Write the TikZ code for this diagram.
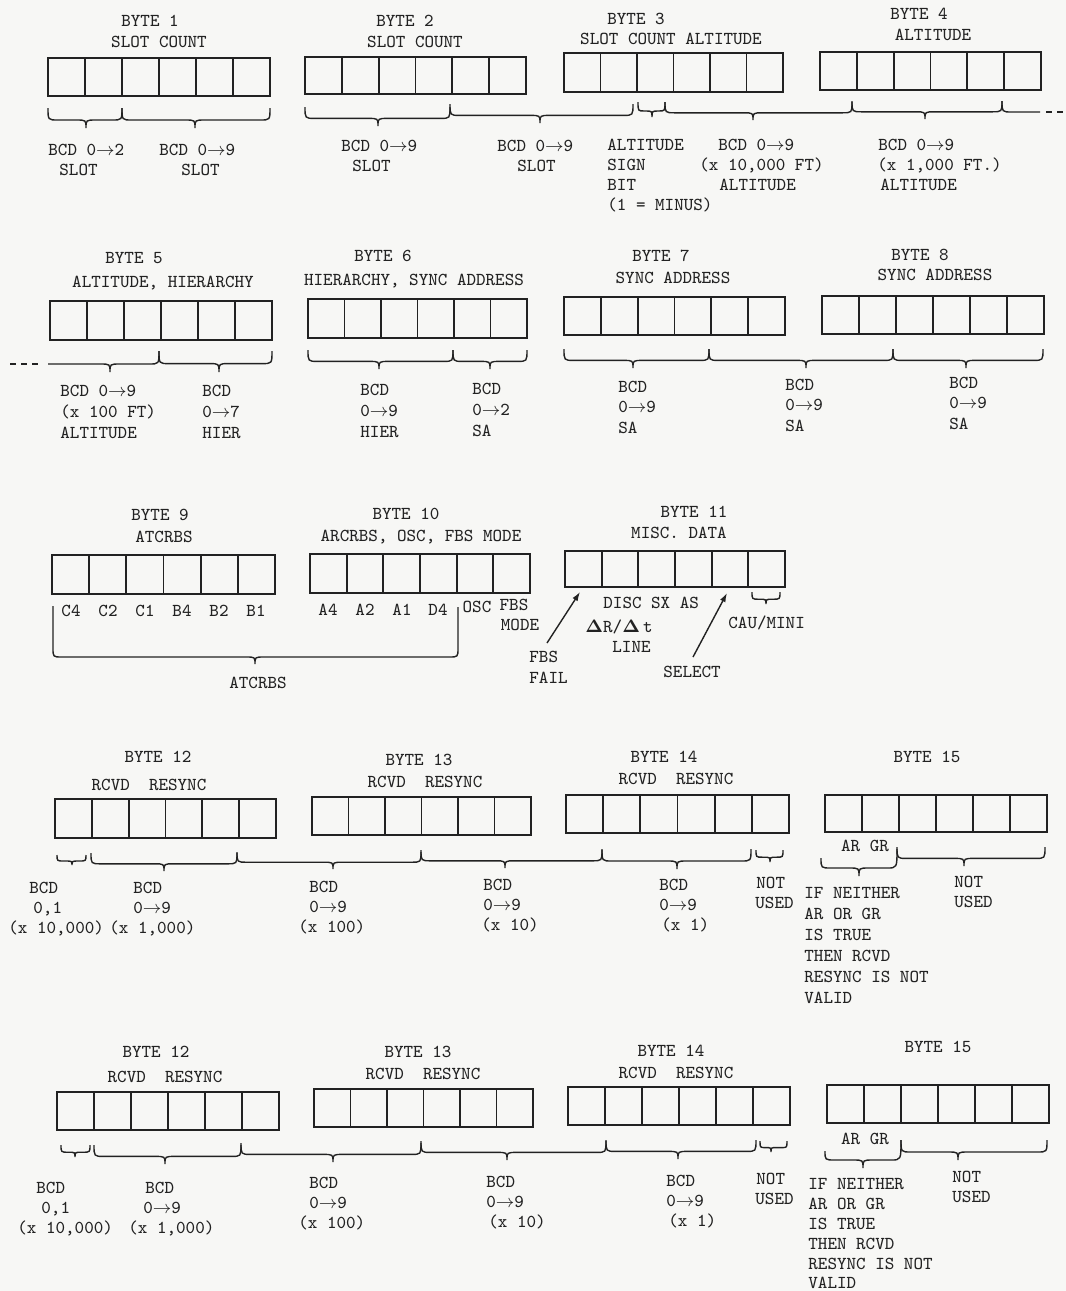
\documentclass[tikz,border=0pt]{standalone}
\usepackage[no-math]{fontspec}
\usetikzlibrary{arrows.meta,calc,fit}
\definecolor{ink}{HTML}{222222}
\definecolor{paper}{HTML}{F7F7F5}
\newcommand{\ta}{$\rightarrow$}
\newcommand{\dl}{$\mathbf{\Delta}$}
\newcommand{\bytebox}[5]{%
  \coordinate (#1nw) at (#2,#3);
  \coordinate (#1se) at (#4,#5);
  \node[bx, fit=(#1nw)(#1se)] (#1) {};
  \foreach \k in {1,...,5}{\draw[cellline] ($(#1.south west)!\k/6!(#1.south east)$) -- ($(#1.north west)!\k/6!(#1.north east)$);}
}
\newcommand{\brc}[5]{%
  \pgfmathsetmacro{\ym}{#4+0.6*(#5-#4)}%
  \pgfmathsetmacro{\rr}{min(10,(#3-#1)/2,(#2-#3)/2)}%
  \draw[brcs] (#1,#4) .. controls (#1,\ym) .. ({#1+\rr},\ym) -- ({#3-\rr},\ym) .. controls (#3,\ym) .. (#3,#5) .. controls (#3,\ym) .. ({#3+\rr},\ym) -- ({#2-\rr},\ym) .. controls (#2,\ym) .. (#2,#4);
}
\begin{document}
\begin{tikzpicture}[x=0.5pt,y=-0.5pt,
  lbl/.style={font=\ttfamily\fontsize{9.1}{11}\selectfont, text=ink, inner sep=0pt, text height=5.6pt, text depth=0pt},
  lw/.style={lbl, anchor=west},
  bx/.style={draw=ink, line width=1pt, inner sep=0pt, outer sep=0pt},
  cellline/.style={draw=ink, line width=0.9pt},
  brcs/.style={draw=ink, line width=0.7pt},
  dsh/.style={draw=ink, line width=0.7pt, dash pattern=on 3pt off 2.5pt},
  arr/.style={draw=ink, line width=0.7pt, -{Latex[length=4.5pt,width=3pt]}}]
\useasboundingbox (0,0) rectangle (1066,1291);
\fill[paper] (0,0) rectangle (1066,1291);

% ================= ROW 1 =================
\bytebox{b1}{48}{58}{270}{96}
\bytebox{b2}{305}{57}{526}{94}
\bytebox{b3}{564}{53}{783}{92}
\bytebox{b4}{820}{52}{1041}{90}
\node[lbl] (t1a) at (150,21) {BYTE 1};
\node[lbl] (t1b) at (159,42) {SLOT COUNT};
\node[lbl] (t2a) at (405,21) {BYTE 2};
\node[lbl] (t2b) at (415,42) {SLOT COUNT};
\node[lbl] (t3a) at (636,19) {BYTE 3};
\node[lbl] (t3b) at (671,39) {SLOT COUNT ALTITUDE};
\node[lbl] (t4a) at (919,14) {BYTE 4};
\node[lbl] (t4b) at (933,35) {ALTITUDE};
\brc{48}{122}{86}{108}{128}
\brc{122}{270}{195}{108}{128}
\brc{305}{450}{378}{107}{126}
\brc{450}{633}{540}{104}{123}
\brc{638}{665}{652}{102}{117}
\brc{665}{852}{753}{102}{120}
\brc{852}{1002}{925}{101}{119}
\draw[brcs] (1002,101) .. controls (1002,112) .. (1012,112) -- (1040,112);
\draw[dsh] (1046,112) -- (1066,112);
\node[lw] (r1a) at (48,150) {BCD 0\ta2};
\node[lw] (r1b) at (59,170) {SLOT};
\node[lw] (r1c) at (159,150) {BCD 0\ta9};
\node[lw] (r1d) at (181,170) {SLOT};
\node[lw] (r1e) at (341,146) {BCD 0\ta9};
\node[lw] (r1f) at (352,166) {SLOT};
\node[lw] (r1g) at (497,146) {BCD 0\ta9};
\node[lw] (r1h) at (517,166) {SLOT};
\node[lw] (r1i) at (607,145) {ALTITUDE};
\node[lw] (r1j) at (607,165) {SIGN};
\node[lw] (r1k) at (607,185) {BIT};
\node[lw] (r1l) at (607,205) {(1 = MINUS)};
\node[lw] (r1m) at (718,145) {BCD 0\ta9};
\node[lw] (r1n) at (699,165) {(x 10,000 FT)};
\node[lw] (r1o) at (719,185) {ALTITUDE};
\node[lw] (r1p) at (878,145) {BCD 0\ta9};
\node[lw] (r1q) at (877,165) {(x 1,000 FT.)};
\node[lw] (r1r) at (880,185) {ALTITUDE};

% ================= ROW 2 =================
\bytebox{b5}{50}{301}{272}{340}
\bytebox{b6}{308}{299}{527}{338}
\bytebox{b7}{564}{297}{785}{335}
\bytebox{b8}{822}{296}{1044}{334}
\node[lbl] (t5a) at (134,258) {BYTE 5};
\node[lbl] (t5b) at (163,282) {ALTITUDE, HIERARCHY};
\node[lbl] (t6a) at (383,256) {BYTE 6};
\node[lbl] (t6b) at (414,280) {HIERARCHY, SYNC ADDRESS};
\node[lbl] (t7a) at (661,256) {BYTE 7};
\node[lbl] (t7b) at (673,278) {SYNC ADDRESS};
\node[lbl] (t8a) at (920,255) {BYTE 8};
\node[lbl] (t8b) at (935,275) {SYNC ADDRESS};
\draw[dsh] (10,364) -- (42,364);
\draw[brcs] (48,364) -- (100,364) .. controls (110,364) .. (110,372) .. controls (110,364) .. (120,364) -- (149,364) .. controls (159,364) .. (159,351);
\brc{159}{272}{219}{351}{372}
\brc{308}{453}{379}{350}{369}
\brc{453}{527}{490}{350}{369}
\brc{564}{709}{633}{349}{368}
\brc{709}{893}{806}{349}{368}
\brc{893}{1043}{966}{349}{368}
\node[lw] (r2a) at (60,391) {BCD 0\ta9};
\node[lw] (r2b) at (60,412) {(x 100 FT)};
\node[lw] (r2c) at (60,433) {ALTITUDE};
\node[lw] (r2d) at (202,391) {BCD};
\node[lw] (r2e) at (202,412) {0\ta7};
\node[lw] (r2f) at (202,433) {HIER};
\node[lw] (r2g) at (360,390) {BCD};
\node[lw] (r2h) at (360,411) {0\ta9};
\node[lw] (r2i) at (360,432) {HIER};
\node[lw] (r2j) at (472,389) {BCD};
\node[lw] (r2k) at (472,410) {0\ta2};
\node[lw] (r2l) at (472,431) {SA};
\node[lw] (r2m) at (618,387) {BCD};
\node[lw] (r2n) at (618,407) {0\ta9};
\node[lw] (r2o) at (618,428) {SA};
\node[lw] (r2p) at (785,385) {BCD};
\node[lw] (r2q) at (785,405) {0\ta9};
\node[lw] (r2r) at (785,426) {SA};
\node[lw] (r2s) at (949,383) {BCD};
\node[lw] (r2t) at (949,403) {0\ta9};
\node[lw] (r2u) at (949,424) {SA};

% ================= ROW 3 =================
\bytebox{b9}{52}{555}{275}{594}
\bytebox{b10}{310}{554}{530}{593}
\bytebox{b11}{565}{551}{785}{587}
\node[lbl] (t9a) at (160,515) {BYTE 9};
\node[lbl] (t9b) at (164,537) {ATCRBS};
\node[lbl] (t10a) at (406,514) {BYTE 10};
\node[lbl] (t10b) at (421,536) {ARCRBS, OSC, FBS MODE};
\node[lbl] (t11a) at (694,512) {BYTE 11};
\node[lbl] (t11b) at (679,533) {MISC. DATA};
\node[lbl] (c4) at (71,611) {C4};
\node[lbl] (c2) at (108,611) {C2};
\node[lbl] (c1) at (145,611) {C1};
\node[lbl] (bb4) at (182,611) {B4};
\node[lbl] (bb2) at (219,611) {B2};
\node[lbl] (bb1) at (256,611) {B1};
\node[lbl] (a4) at (328,610) {A4};
\node[lbl] (a2) at (365,610) {A2};
\node[lbl] (a1) at (402,610) {A1};
\node[lbl] (d4) at (438,610) {D4};
\node[lbl] (osc) at (477,607) {OSC};
\node[lbl] (fbs) at (514,605) {FBS};
\node[lbl] (mode) at (520,625) {MODE};
\draw[brcs] (53,606) -- (53,648) .. controls (53,657) .. (62,657) -- (246,657) .. controls (255,657) .. (255,664) .. controls (255,657) .. (264,657) -- (449,657) .. controls (458,657) .. (458,648) -- (458,607);
\node[lbl] (atc) at (258,683) {ATCRBS};
\node[lw] (disc) at (603,603) {DISC SX AS};
\node[lw] (drdt) at (585,627) {\dl R/\dl\,t};
\node[lw] (line) at (612,647) {LINE};
\node[lw] (fbsf1) at (529,657) {FBS};
\node[lw] (fbsf2) at (529,678) {FAIL};
\node[lw] (sel) at (663,672) {SELECT};
\node[lw] (cau) at (728,623) {CAU/MINI};
\brc{752}{780}{766}{592}{604}
\coordinate (fa0) at (547,643);
\coordinate (fa1) at (580,592);
\coordinate (sa0) at (693,657);
\coordinate (sa1) at (727,593);
\draw[arr] (fa0) -- (fa1);
\draw[arr] (sa0) -- (sa1);

% ================= ROW 4 =================
\bytebox{b12a}{55}{799}{276}{838}
\bytebox{b13a}{312}{797}{531}{835}
\bytebox{b14a}{566}{795}{789}{833}
\bytebox{b15a}{825}{795}{1047}{832}
\node[lbl] (t12a) at (158,757) {BYTE 12};
\node[lbl] (t12b) at (149,785) {RCVD\ \ RESYNC};
\node[lbl] (t13a) at (419,760) {BYTE 13};
\node[lbl] (t13b) at (425,782) {RCVD\ \ RESYNC};
\node[lbl] (t14a) at (664,757) {BYTE 14};
\node[lbl] (t14b) at (676,779) {RCVD\ \ RESYNC};
\node[lbl] (t15a) at (927,757) {BYTE 15};
\brc{57}{86}{72}{855}{865}
\brc{91}{237}{164}{853}{871}
\brc{237}{421}{333}{852}{869}
\brc{421}{602}{505}{850}{868}
\brc{602}{751}{677}{849}{869}
\brc{756}{783}{770}{850}{862}
\draw[brcs] (821,858) .. controls (821,868) .. (831,868) -- (849,868) .. controls (859,868) .. (859,876) .. controls (859,868) .. (869,868) -- (887,868) .. controls (897,868) .. (897,849);
\brc{897}{1045}{964}{847}{866}
\node[lbl] (argr1) at (865,846) {AR GR};
\node[lw] (r4a) at (29,888) {BCD};
\node[lw] (r4b) at (33,908) {0,1};
\node[lw] (r4c) at (8,928) {(x 10,000)};
\node[lw] (r4d) at (133,888) {BCD};
\node[lw] (r4e) at (133,908) {0\ta9};
\node[lw] (r4f) at (109,928) {(x 1,000)};
\node[lw] (r4g) at (309,887) {BCD};
\node[lw] (r4h) at (309,907) {0\ta9};
\node[lw] (r4i) at (298,927) {(x 100)};
\node[lw] (r4j) at (483,885) {BCD};
\node[lw] (r4k) at (483,905) {0\ta9};
\node[lw] (r4l) at (481,925) {(x 10)};
\node[lw] (r4m) at (659,885) {BCD};
\node[lw] (r4n) at (659,905) {0\ta9};
\node[lw] (r4o) at (661,925) {(x 1)};
\node[lw] (r4p) at (756,883) {NOT};
\node[lw] (r4q) at (755,903) {USED};
\node[lw] (r4r) at (804,893) {IF NEITHER};
\node[lw] (r4s) at (804,914) {AR OR GR};
\node[lw] (r4t) at (804,935) {IS TRUE};
\node[lw] (r4u) at (804,956) {THEN RCVD};
\node[lw] (r4v) at (804,977) {RESYNC IS NOT};
\node[lw] (r4w) at (804,998) {VALID};
\node[lw] (r4x) at (954,882) {NOT};
\node[lw] (r4y) at (954,902) {USED};

% ================= ROW 5 =================
\bytebox{b12b}{57}{1092}{279}{1130}
\bytebox{b13b}{314}{1089}{533}{1127}
\bytebox{b14b}{568}{1087}{790}{1125}
\bytebox{b15b}{827}{1085}{1049}{1123}
\node[lbl] (u12a) at (156,1052) {BYTE 12};
\node[lbl] (u12b) at (165,1077) {RCVD\ \ RESYNC};
\node[lbl] (u13a) at (418,1052) {BYTE 13};
\node[lbl] (u13b) at (423,1074) {RCVD\ \ RESYNC};
\node[lbl] (u14a) at (671,1051) {BYTE 14};
\node[lbl] (u14b) at (676,1073) {RCVD\ \ RESYNC};
\node[lbl] (u15a) at (938,1047) {BYTE 15};
\brc{61}{90}{75}{1145}{1157}
\brc{94}{241}{165}{1145}{1164}
\brc{241}{421}{333}{1143}{1162}
\brc{421}{606}{507}{1141}{1160}
\brc{606}{756}{678}{1140}{1159}
\brc{760}{787}{771}{1141}{1152}
\draw[brcs] (825,1151) .. controls (825,1160) .. (835,1160) -- (853,1160) .. controls (863,1160) .. (863,1168) .. controls (863,1160) .. (873,1160) -- (891,1160) .. controls (901,1160) .. (901,1140);
\brc{901}{1047}{958}{1140}{1160}
\node[lbl] (argr2) at (865,1139) {AR GR};
\node[lw] (r5a) at (36,1188) {BCD};
\node[lw] (r5b) at (41,1208) {0,1};
\node[lw] (r5c) at (17,1228) {(x 10,000)};
\node[lw] (r5d) at (145,1188) {BCD};
\node[lw] (r5e) at (143,1208) {0\ta9};
\node[lw] (r5f) at (128,1228) {(x 1,000)};
\node[lw] (r5g) at (309,1183) {BCD};
\node[lw] (r5h) at (309,1203) {0\ta9};
\node[lw] (r5i) at (298,1223) {(x 100)};
\node[lw] (r5j) at (486,1182) {BCD};
\node[lw] (r5k) at (486,1202) {0\ta9};
\node[lw] (r5l) at (488,1222) {(x 10)};
\node[lw] (r5m) at (666,1181) {BCD};
\node[lw] (r5n) at (666,1201) {0\ta9};
\node[lw] (r5o) at (668,1221) {(x 1)};
\node[lw] (r5p) at (756,1179) {NOT};
\node[lw] (r5q) at (755,1199) {USED};
\node[lw] (r5r) at (808,1184) {IF NEITHER};
\node[lw] (r5s) at (808,1204) {AR OR GR};
\node[lw] (r5t) at (808,1224) {IS TRUE};
\node[lw] (r5u) at (808,1244) {THEN RCVD};
\node[lw] (r5v) at (808,1264) {RESYNC IS NOT};
\node[lw] (r5w) at (808,1283) {VALID};
\node[lw] (r5x) at (952,1177) {NOT};
\node[lw] (r5y) at (952,1197) {USED};
\end{tikzpicture}
\end{document}
